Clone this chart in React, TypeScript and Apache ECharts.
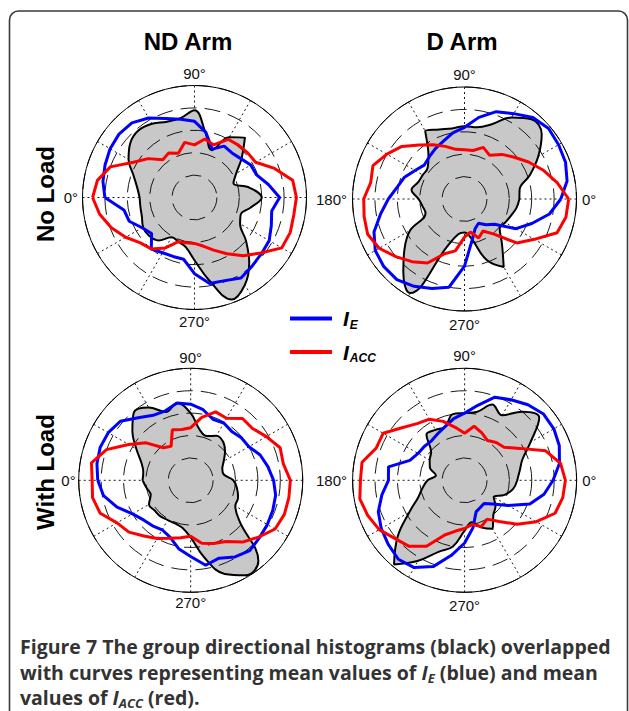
import React, { useEffect, useRef } from "react";
import * as echarts from "echarts";

// Angles (degrees) at which every curve was read
const angles = [0, 10, 20, 30, 40, 50, 60, 70, 80, 90, 100, 110, 120, 130, 140, 150, 160, 170,
  180, 190, 200, 210, 220, 230, 240, 250, 260, 270, 280, 290, 300, 310, 320, 330, 340, 350];

// ND Arm, No Load
const ndNoLoadHist = [0.49, 0.52, 0.58, 0.68, 0.75, 0.78, 0.76, 0.72, 0.72, 0.78, 0.58, 0.45, 0.62, 0.70, 0.55, 0.43, 0.37, 0.50,
  0.60, 0.51, 0.44, 0.47, 0.60, 0.76, 0.90, 0.97, 0.75, 0.56, 0.45, 0.42, 0.41, 0.50, 0.53, 0.53, 0.50, 0.49];
const ndNoLoadIE = [0.80, 0.83, 0.85, 0.87, 0.88, 0.87, 0.82, 0.75, 0.71, 0.68, 0.59, 0.46, 0.53, 0.52, 0.54, 0.58, 0.59, 0.67,
  0.76, 0.70, 0.73, 0.77, 0.78, 0.80, 0.83, 0.79, 0.78, 0.68, 0.56, 0.56, 0.57, 0.60, 0.50, 0.54, 0.62, 0.64];
const ndNoLoadIACC = [0.91, 0.88, 0.80, 0.63, 0.54, 0.44, 0.46, 0.42, 0.50, 0.47, 0.53, 0.50, 0.60, 0.61, 0.62, 0.63, 0.76, 0.89,
  0.91, 0.90, 0.91, 0.90, 0.77, 0.68, 0.58, 0.50, 0.44, 0.41, 0.41, 0.42, 0.52, 0.60, 0.63, 0.71, 0.79, 0.86];

// D Arm, No Load
const dNoLoadHist = [0.49, 0.50, 0.62, 0.76, 0.90, 0.93, 0.84, 0.71, 0.65, 0.65, 0.64, 0.66, 0.70, 0.50, 0.43, 0.43, 0.44, 0.48,
  0.41, 0.38, 0.37, 0.56, 0.70, 0.85, 0.97, 0.45, 0.32, 0.30, 0.36, 0.58, 0.70, 0.52, 0.41, 0.42, 0.44, 0.47];
const dNoLoadIE = [0.86, 0.93, 0.96, 0.97, 0.98, 0.95, 0.88, 0.83, 0.74, 0.64, 0.60, 0.55, 0.52, 0.49, 0.47, 0.51, 0.57, 0.61,
  0.68, 0.76, 0.86, 0.92, 0.94, 0.94, 0.90, 0.85, 0.80, 0.60, 0.38, 0.28, 0.25, 0.30, 0.35, 0.53, 0.64, 0.77];
const dNoLoadIACC = [0.93, 0.84, 0.75, 0.66, 0.58, 0.52, 0.45, 0.49, 0.44, 0.44, 0.45, 0.50, 0.56, 0.63, 0.73, 0.80, 0.87, 0.85,
  0.90, 0.91, 0.92, 0.88, 0.80, 0.73, 0.66, 0.52, 0.47, 0.34, 0.30, 0.37, 0.33, 0.41, 0.61, 0.72, 0.88, 0.92];

// ND Arm, With Load
const ndLoadHist = [0.43, 0.43, 0.47, 0.56, 0.68, 0.79, 0.75, 0.65, 0.70, 0.60, 0.46, 0.42, 0.46, 0.45, 0.40, 0.34, 0.30, 0.30,
  0.38, 0.42, 0.45, 0.46, 0.57, 0.94, 0.98, 0.89, 0.70, 0.51, 0.43, 0.41, 0.41, 0.42, 0.42, 0.43, 0.38, 0.40];
const ndLoadIE = [0.83, 0.85, 0.86, 0.85, 0.82, 0.73, 0.67, 0.66, 0.70, 0.68, 0.64, 0.58, 0.59, 0.57, 0.59, 0.60, 0.66, 0.70,
  0.74, 0.77, 0.78, 0.79, 0.80, 0.82, 0.79, 0.74, 0.77, 0.68, 0.62, 0.54, 0.51, 0.53, 0.55, 0.60, 0.70, 0.79];
const ndLoadIACC = [0.88, 0.90, 0.80, 0.64, 0.52, 0.38, 0.35, 0.48, 0.46, 0.47, 0.57, 0.65, 0.64, 0.72, 0.72, 0.78, 0.85, 0.84,
  0.89, 0.89, 0.89, 0.87, 0.79, 0.72, 0.63, 0.60, 0.57, 0.50, 0.52, 0.55, 0.60, 0.65, 0.72, 0.76, 0.86, 0.89];

// D Arm, With Load
const dLoadHist = [0.47, 0.50, 0.55, 0.68, 0.87, 0.80, 0.67, 0.72, 0.62, 0.60, 0.60, 0.51, 0.52, 0.53, 0.39, 0.36, 0.33, 0.26,
  0.33, 0.38, 0.44, 0.57, 0.78, 0.98, 0.83, 0.68, 0.60, 0.45, 0.38, 0.45, 0.50, 0.40, 0.36, 0.30, 0.38, 0.44];
const dLoadIE = [0.79, 0.86, 0.90, 0.92, 0.92, 0.88, 0.83, 0.79, 0.68, 0.60, 0.56, 0.51, 0.48, 0.46, 0.47, 0.48, 0.52, 0.69,
  0.68, 0.75, 0.82, 0.86, 0.89, 0.92, 0.90, 0.82, 0.68, 0.56, 0.43, 0.30, 0.28, 0.27, 0.33, 0.45, 0.62, 0.72];
const dLoadIACC = [0.90, 0.87, 0.77, 0.57, 0.46, 0.44, 0.41, 0.45, 0.49, 0.42, 0.48, 0.56, 0.63, 0.66, 0.73, 0.84, 0.84, 0.93,
  0.93, 0.95, 0.92, 0.88, 0.81, 0.77, 0.68, 0.52, 0.46, 0.43, 0.40, 0.44, 0.40, 0.48, 0.61, 0.74, 0.86, 0.89];

const columnTitles = ["ND Arm", "D Arm"];
const rowTitles = ["No Load", "With Load"];
// the 180° label is shared by the two plots of a row (it sits between them)
const leftTickLabels = [0, 90, 270];
const rightTickLabels = [0, 90, 180, 270];
const seriesNames = ["I_E", "I_ACC"];

const panels = [
  { hist: ndNoLoadHist, ie: ndNoLoadIE, iacc: ndNoLoadIACC, center: [194.5, 197.5], mirrored: true, margin: 4.5 },
  { hist: dNoLoadHist, ie: dNoLoadIE, iacc: dNoLoadIACC, center: [464.5, 199], mirrored: false, margin: 5.5 },
  { hist: ndLoadHist, ie: ndLoadIE, iacc: ndLoadIACC, center: [190.7, 480.3], mirrored: true, margin: 3 },
  { hist: dLoadHist, ie: dLoadIE, iacc: dLoadIACC, center: [464.6, 480.3], mirrored: false, margin: 5.6 },
];

const SANS = "'Liberation Sans', Arial, Helvetica, sans-serif";
const CAP = "'Open Sans', 'Noto Sans', sans-serif";

function loop(vals: number[]) {
  const d = vals.map((r, i) => [r, angles[i]]);
  d.push([vals[0], 360]);
  return d;
}

export default function App() {
  const ref = useRef<HTMLDivElement>(null);
  useEffect(() => {
    if (!ref.current) return;
    const chart = echarts.init(ref.current, undefined, { renderer: "svg" });

    const polar = panels.map((p) => ({ center: p.center, radius: 112 }));
    const angleAxis = panels.map((p, i) => {
      const shown = p.mirrored ? leftTickLabels : rightTickLabels;
      return {
        polarIndex: i,
        type: "value",
        min: 0,
        max: 360,
        interval: 30,
        startAngle: p.mirrored ? 180 : 0,
        clockwise: p.mirrored,
        z: 0,
        axisLine: { show: true, lineStyle: { color: "#000", width: 1 } },
        axisTick: { show: false },
        axisLabel: {
          show: true,
          margin: p.margin,
          color: "#111",
          fontSize: 15,
          fontFamily: SANS,
          formatter: (v: number) => (shown.indexOf(v) >= 0 ? v + "°" : ""),
        },
        splitLine: { show: true, lineStyle: { color: "#000", width: 0.9, type: [2, 3] } },
      };
    });
    const radiusAxis = panels.map((p, i) => ({
      polarIndex: i,
      type: "value",
      min: 0,
      max: 1,
      interval: 0.2,
      z: 2,
      axisLine: { show: false },
      axisTick: { show: false },
      axisLabel: { show: false },
      splitLine: { show: true, lineStyle: { color: "#000", width: 0.9, type: [16, 8] } },
    }));

    const series: any[] = [];
    panels.forEach((p, i) => {
      series.push({
        name: "hist",
        type: "line",
        coordinateSystem: "polar",
        polarIndex: i,
        data: loop(p.hist),
        smooth: 0.4,
        symbol: "none",
        z: 1,
        lineStyle: { color: "#000", width: 2 },
        itemStyle: { color: "#000" },
        areaStyle: { color: "#c8c8c8", opacity: 1 },
      });
      series.push({
        name: seriesNames[0],
        type: "line",
        coordinateSystem: "polar",
        polarIndex: i,
        data: loop(p.ie),
        symbol: "none",
        z: 3,
        color: "#0000ff",
        lineStyle: { color: "#0000ff", width: 3 },
        itemStyle: { color: "#0000ff" },
      });
      series.push({
        name: seriesNames[1],
        type: "line",
        coordinateSystem: "polar",
        polarIndex: i,
        data: loop(p.iacc),
        symbol: "none",
        z: 3,
        color: "#ff0000",
        lineStyle: { color: "#ff0000", width: 3 },
        itemStyle: { color: "#ff0000" },
      });
    });

    const titleFont = `bold 24px ${SANS}`;
    const CS = 19.5;
    const capRich = {
      f: { fontFamily: CAP, fontSize: CS, fontWeight: "bold", color: "#111", lineHeight: 24 },
      i: { fontFamily: CAP, fontSize: CS, fontWeight: "bold", fontStyle: "italic", color: "#333", lineHeight: 24 },
      s: { fontFamily: CAP, fontSize: 13, fontWeight: "bold", fontStyle: "italic", color: "#333", lineHeight: 24, verticalAlign: "bottom" },
    };
    const capText = (x: number, y: number, text: string) => ({
      type: "text",
      x,
      y,
      style: {
        text,
        fill: "#333",
        font: `bold ${CS}px ${CAP}`,
        verticalAlign: "middle",
        align: "left",
        lineHeight: 24,
        rich: capRich,
      },
    });

    chart.setOption({
      animation: false,
      polar,
      angleAxis,
      radiusAxis,
      series,
      legend: {
        data: seriesNames,
        orient: "vertical",
        left: 290,
        top: 308,
        padding: 0,
        itemGap: 11,
        itemWidth: 42,
        itemHeight: 4,
        icon: "rect",
        formatter: (name: string) => (name === "I_E" ? "{i|I}{s|E}" : "{i|I}{s|ACC}"),
        textStyle: {
          rich: {
            i: { fontFamily: SANS, fontSize: 21, fontWeight: "bold", fontStyle: "italic", color: "#000", lineHeight: 24, padding: [0, 1, 0, 6] },
            s: { fontFamily: SANS, fontSize: 12, fontWeight: "bold", fontStyle: "italic", color: "#000", lineHeight: 24, verticalAlign: "bottom" },
          },
        },
      },
      graphic: [
        {
          type: "rect",
          shape: { x: 9.5, y: 11, width: 618, height: 720, r: 9 },
          style: { fill: "none", stroke: "#3a3a3a", lineWidth: 1.6 },
          silent: true,
        },
        { type: "text", x: 188, y: 41, style: { text: columnTitles[0], font: titleFont, fill: "#000", align: "center", verticalAlign: "middle" } },
        { type: "text", x: 462, y: 41, style: { text: columnTitles[1], font: titleFont, fill: "#000", align: "center", verticalAlign: "middle" } },
        { type: "text", x: 45, y: 194, rotation: Math.PI / 2, style: { text: rowTitles[0], font: titleFont, fill: "#000", align: "center", verticalAlign: "middle" } },
        { type: "text", x: 45, y: 472, rotation: Math.PI / 2, style: { text: rowTitles[1], font: titleFont, fill: "#000", align: "center", verticalAlign: "middle" } },
        capText(20, 646, "{f|Figure 7} The group directional histograms (black) overlapped"),
        capText(20, 672, "with curves representing mean values of {i|I}{s|E} (blue) and mean"),
        capText(20, 697, "values of {i|I}{s|ACC} (red)."),
      ],
    });
    return () => chart.dispose();
  }, []);
  return <div ref={ref} style={{ position: "absolute", left: 0, top: 0, width: 629, height: 711, background: "#fff" }} />;
}
